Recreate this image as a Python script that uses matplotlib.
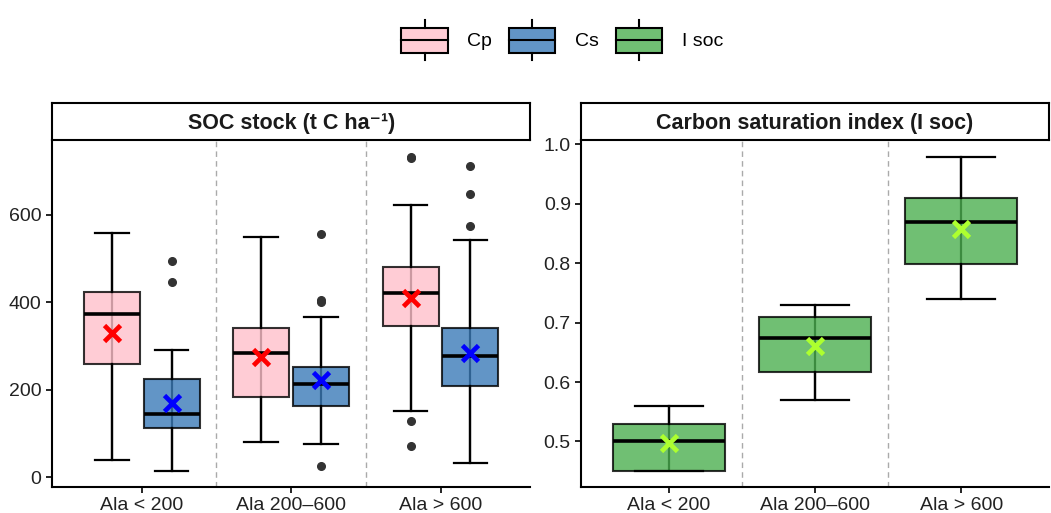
import matplotlib.pyplot as plt
from matplotlib.colors import to_rgba
from matplotlib.patches import Rectangle, Patch
from matplotlib.lines import Line2D
from matplotlib.legend_handler import HandlerBase

plt.rcParams['font.family'] = ['Liberation Sans', 'DejaVu Sans']

groups = ["Ala < 200", "Ala 200–600", "Ala > 600"]

# SOC stock (t C ha-1): [whislo, q1, med, q3, whishi]
cp_stats = [[40, 259, 372, 424, 557], [81, 184, 284, 341, 548], [152, 345, 421, 481, 621]]
cp_means = [329, 274, 409]
cp_fliers = [[], [], [732, 729, 129, 71]]

cs_stats = [[14, 112, 144, 224, 291], [77, 163, 214, 252, 367], [32, 208, 278, 341, 541]]
cs_means = [170, 222, 283]
cs_fliers = [[495, 446], [556, 406, 400, 26], [712, 646, 575]]

# Carbon saturation index
isoc_stats = [[0.45, 0.451, 0.50, 0.53, 0.56], [0.57, 0.617, 0.674, 0.709, 0.73], [0.74, 0.799, 0.869, 0.909, 0.979]]
isoc_means = [0.497, 0.661, 0.858]

colors = {"Cp": "#FFC0CB", "Cs": "#3B7BB8", "I soc": "#4CAF50"}
mean_colors = {"Cp": "red", "Cs": "blue", "I soc": "#ADFF2F"}


def to_bxp(stats, fliers):
    out = []
    for s, f in zip(stats, fliers):
        out.append(dict(whislo=s[0], q1=s[1], med=s[2], q3=s[3], whishi=s[4], fliers=f))
    return out


def draw_boxes(ax, stats, fliers, means, pos, width, key):
    ax.vlines(pos, [s[0] for s in stats], [s[4] for s in stats], color="black", lw=1.6, zorder=1)
    bp = ax.bxp(to_bxp(stats, fliers), positions=pos, widths=width, patch_artist=True,
                showcaps=True, manage_ticks=False,
                boxprops=dict(facecolor=colors[key], alpha=0.8, edgecolor="black", lw=1.5),
                medianprops=dict(color="black", lw=2.6),
                whiskerprops=dict(color="black", lw=1.6),
                capprops=dict(color="black", lw=1.6),
                flierprops=dict(marker="o", markerfacecolor="#333333", markeredgecolor="#333333",
                                markersize=5.5))
    for c in bp["caps"]:
        x = c.get_xdata()
        m = (x[0] + x[1]) / 2
        c.set_xdata([m - width * 0.3, m + width * 0.3])
    for b in bp["boxes"]:
        b.set_edgecolor("black")
        b.set_zorder(2)
    ax.plot(pos, means, "x", color=mean_colors[key], markersize=12, mew=3.4, zorder=5)


def style_axis(ax):
    for s in ["top", "right"]:
        ax.spines[s].set_visible(False)
    for s in ["left", "bottom"]:
        ax.spines[s].set_linewidth(1.5)
    ax.tick_params(width=1.2, length=4, labelsize=14, colors="black", labelcolor="#222222")
    ax.set_xlim(0.4, 3.6)
    ax.set_xticks([1, 2, 3])
    ax.set_xticklabels(groups)
    for x in [1.5, 2.5]:
        ax.axvline(x, color="#AAAAAA", ls=(0, (4, 3)), lw=1, zorder=0)


def add_strip(fig, rect, title):
    sax = fig.add_axes(rect)
    sax.set_xticks([])
    sax.set_yticks([])
    for s in sax.spines.values():
        s.set_linewidth(1.5)
    sax.text(0.5, 0.45, title, ha="center", va="center", fontsize=15.5, fontweight="bold",
             color="#1a1a1a", transform=sax.transAxes)


class BoxHandler(HandlerBase):
    def create_artists(self, legend, orig_handle, xdescent, ydescent, width, height, fontsize, trans):
        x0, y0 = -xdescent, -ydescent
        ext = height * 0.3
        cx = x0 + width / 2
        rect = Rectangle((x0, y0), width, height, facecolor=orig_handle.get_facecolor(),
                         edgecolor="black", lw=1.5, transform=trans)
        med = Line2D([x0, x0 + width], [y0 + height / 2] * 2, color="black", lw=1.5, transform=trans)
        up = Line2D([cx, cx], [y0 + height, y0 + height + ext], color="black", lw=1.5, transform=trans)
        dn = Line2D([cx, cx], [y0 - ext, y0], color="black", lw=1.5, transform=trans)
        return [rect, med, up, dn]


fig = plt.figure(figsize=(10.51, 5.13), dpi=100)

ax1 = fig.add_axes([0.0495, 0.0507, 0.455, 0.676])
pos = [1, 2, 3]
draw_boxes(ax1, cp_stats, cp_fliers, cp_means, [p - 0.2 for p in pos], 0.375, "Cp")
draw_boxes(ax1, cs_stats, cs_fliers, cs_means, [p + 0.2 for p in pos], 0.375, "Cs")
style_axis(ax1)
ax1.set_ylim(-22, 770)
ax1.set_yticks([0, 200, 400, 600])
add_strip(fig, [0.0495, 0.727, 0.455, 0.072], "SOC stock (t C ha⁻¹)")

ax2 = fig.add_axes([0.553, 0.0507, 0.445, 0.676])
draw_boxes(ax2, isoc_stats, [[], [], []], isoc_means, pos, 0.77, "I soc")
style_axis(ax2)
ax2.set_ylim(0.4235, 1.0065)
ax2.set_yticks([0.5, 0.6, 0.7, 0.8, 0.9, 1.0])
ax2.set_yticklabels(["0.5", "0.6", "0.7", "0.8", "0.9", "1.0"])
add_strip(fig, [0.553, 0.727, 0.445, 0.072], "Carbon saturation index (I soc)")

handles = [Patch(facecolor=to_rgba(colors[k], 0.8)) for k in ["Cp", "Cs", "I soc"]]
fig.legend(handles, ["Cp", "Cs", "I soc"], handler_map={Patch: BoxHandler()},
           loc="center", bbox_to_anchor=(0.535, 0.922), ncol=3, frameon=False,
           fontsize=14, handlelength=2.37, handleheight=1.6, handletextpad=1.0,
           columnspacing=0.9)

fig.savefig("out.png", dpi=100)
